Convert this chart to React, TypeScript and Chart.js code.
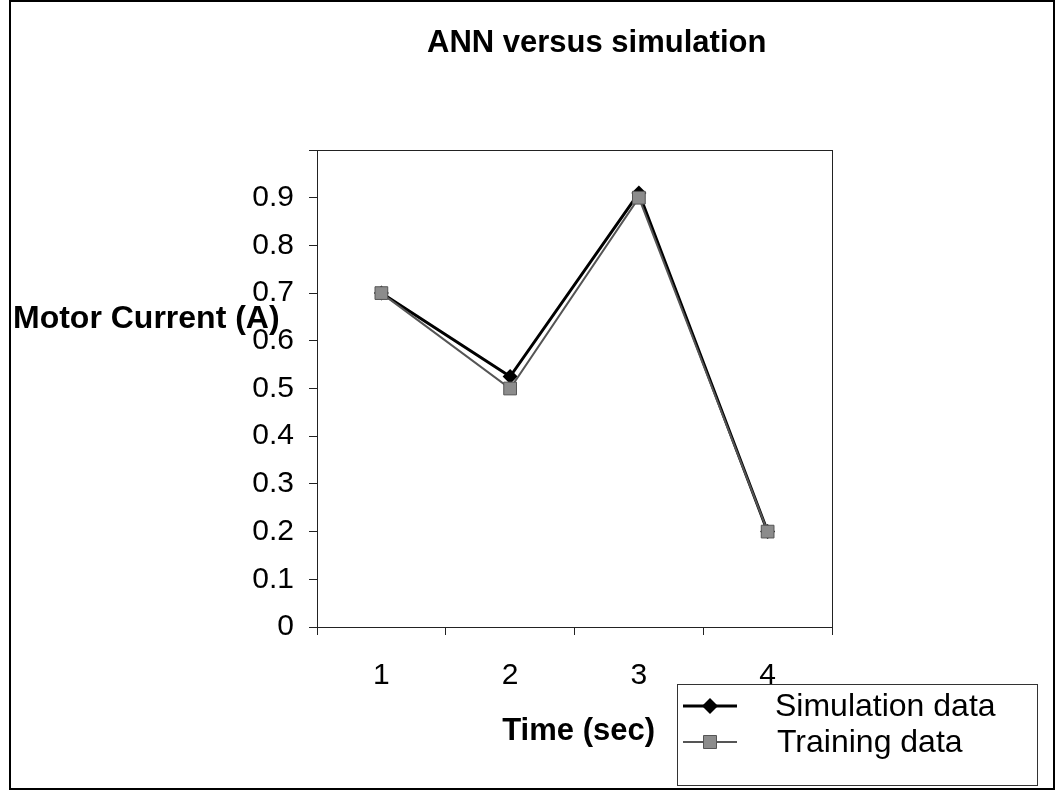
import React, { useEffect, useRef } from "react";
import { Chart, registerables } from "chart.js";

Chart.register(...registerables);

const categories = ["1", "2", "3", "4"];
const simulationValues = [0.7, 0.525, 0.91, 0.2];
const trainingValues = [0.7, 0.5, 0.9, 0.2];
const seriesNames = ["Simulation data", "Training data"];
const chartTitle = "ANN versus simulation";
const xTitle = "Time (sec)";
const yTitle = "Motor Current (A)";

const FONT = "'Liberation Sans', Arial, Helvetica, sans-serif";

const decorPlugin = {
  id: "decor",
  afterDraw(chart: any) {
    const ctx = chart.ctx as CanvasRenderingContext2D;
    const a = chart.chartArea;
    ctx.save();
    // outer frame
    ctx.strokeStyle = "#000";
    ctx.lineWidth = 2;
    ctx.strokeRect(10, 1, chart.width - 12, chart.height - 3);
    // plot box
    ctx.lineWidth = 1;
    ctx.strokeStyle = "#222";
    ctx.strokeRect(a.left + 0.5, a.top + 0.5, a.right - a.left, a.bottom - a.top);
    // title
    ctx.fillStyle = "#000";
    ctx.textBaseline = "alphabetic";
    ctx.textAlign = "left";
    ctx.font = `bold 31px ${FONT}`;
    ctx.fillText(chartTitle, 427, 52);
    // y title
    ctx.font = `bold 32px ${FONT}`;
    ctx.fillText(yTitle, 13, 328);
    // x title
    ctx.textAlign = "right";
    ctx.font = `bold 31px ${FONT}`;
    ctx.fillText(xTitle, 655, 740);
    // legend
    const lx = 677, ly = 684, lw = 360, lh = 101;
    ctx.fillStyle = "#fff";
    ctx.fillRect(lx, ly, lw, lh);
    ctx.strokeStyle = "#333";
    ctx.lineWidth = 1;
    ctx.strokeRect(lx + 0.5, ly + 0.5, lw, lh);
    const ds = chart.data.datasets;
    const rows = [
      { y: 706, tx: 775 },
      { y: 742, tx: 777 },
    ];
    rows.forEach((r, i) => {
      const d = ds[i];
      ctx.strokeStyle = d.borderColor;
      ctx.lineWidth = d.borderWidth;
      ctx.beginPath();
      ctx.moveTo(683, r.y);
      ctx.lineTo(737, r.y);
      ctx.stroke();
      ctx.fillStyle = d.pointBackgroundColor;
      ctx.beginPath();
      if (i === 0) {
        ctx.moveTo(710, r.y - 8);
        ctx.lineTo(718, r.y);
        ctx.lineTo(710, r.y + 8);
        ctx.lineTo(702, r.y);
        ctx.closePath();
        ctx.fill();
      } else {
        ctx.rect(703.5, r.y - 6.5, 13, 13);
        ctx.fill();
        ctx.strokeStyle = d.pointBorderColor;
        ctx.lineWidth = 1;
        ctx.stroke();
      }
      ctx.fillStyle = "#000";
      ctx.textAlign = "left";
      ctx.textBaseline = "middle";
      ctx.font = `32px ${FONT}`;
      ctx.fillText(seriesNames[i], r.tx, r.y + 1);
    });
    ctx.restore();
  },
};

export default function App() {
  const ref = useRef<HTMLCanvasElement | null>(null);
  useEffect(() => {
    document.body.style.margin = "0";
    const canvas = ref.current!;
    const chart = new Chart(canvas, {
      type: "line",
      data: {
        labels: categories,
        datasets: [
          {
            label: seriesNames[0],
            data: simulationValues,
            borderColor: "#000",
            borderWidth: 3,
            pointStyle: "rectRot",
            pointRadius: 7.5,
            pointBackgroundColor: "#000",
            pointBorderColor: "#000",
            pointBorderWidth: 0,
            tension: 0,
            order: 1,
          },
          {
            label: seriesNames[1],
            data: trainingValues,
            borderColor: "#555",
            borderWidth: 2,
            pointStyle: "rect",
            pointRadius: 9,
            pointBackgroundColor: "#8c8c8c",
            pointBorderColor: "#555",
            pointBorderWidth: 1,
            tension: 0,
            order: 0,
          },
        ],
      },
      options: {
        animation: false,
        responsive: false,
        layout: { padding: { top: 150, right: 224, left: 0, bottom: 0 } },
        plugins: { legend: { display: false }, tooltip: { enabled: false }, title: { display: false } },
        scales: {
          x: {
            offset: true,
            grid: { display: true, offset: true, drawOnChartArea: false, color: "#222", tickLength: 8 },
            border: { color: "#222" },
            ticks: { color: "#000", font: { size: 30, family: FONT }, padding: 23 },
            afterFit: (s: any) => { s.height = 164; },
          },
          y: {
            min: 0,
            max: 1,
            grid: { display: true, drawOnChartArea: false, color: "#222", tickLength: 8 },
            border: { color: "#222" },
            ticks: {
              stepSize: 0.1,
              color: "#000",
              font: { size: 30, family: FONT },
              padding: 15,
              callback: (v: any) => (Number(v) >= 0.999 ? "" : String(Math.round(Number(v) * 10) / 10)),
            },
            afterFit: (s: any) => { s.width = 317; },
          },
        },
      },
      plugins: [decorPlugin],
    });
    return () => chart.destroy();
  }, []);
  return <canvas ref={ref} width={1056} height={791} style={{ display: "block" }} />;
}
